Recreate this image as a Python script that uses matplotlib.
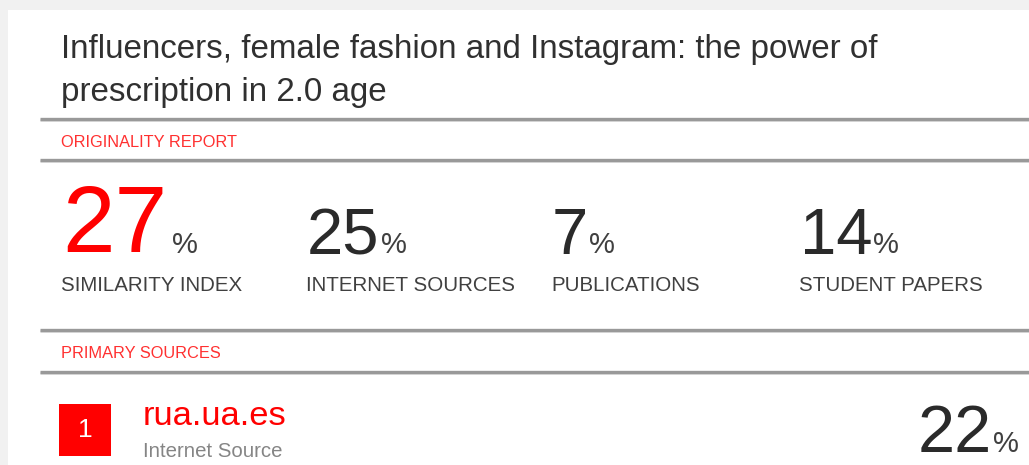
import matplotlib
matplotlib.use("Agg")
import matplotlib.pyplot as plt
from matplotlib.patches import Rectangle

# ---- data ----
title_lines = ["Influencers, female fashion and Instagram: the power of",
               "prescription in 2.0 age"]
section_report = "ORIGINALITY REPORT"
section_sources = "PRIMARY SOURCES"
categories = ["SIMILARITY INDEX", "INTERNET SOURCES", "PUBLICATIONS", "STUDENT PAPERS"]
values = [27, 25, 7, 14]
source_ranks = [1]
source_names = ["rua.ua.es"]
source_types = ["Internet Source"]
source_values = [22]

# ---- style ----
FONT = "Liberation Sans"
RED = "#ff0000"
DARK = "#2a2a2a"
GREY = "#404040"
LIGHT = "#858585"
RULE = "#999999"
W, H = 1029, 465

fig = plt.figure(figsize=(W / 100, H / 100), dpi=100, facecolor="#f1f1f1")
ax = fig.add_axes([0, 0, 1, 1])
ax.set_xlim(0, W)
ax.set_ylim(H, 0)
ax.axis("off")
ax.set_facecolor("none")

# white panel
ax.add_patch(Rectangle((8, 10), W - 8, H - 10, facecolor="white", edgecolor="none", zorder=0))

def txt(x, y, s, size, color, **kw):
    return ax.text(x, y, s, fontsize=size, color=color, family=FONT,
                   va="baseline", ha=kw.pop("ha", "left"), **kw)

# title
txt(61, 58, title_lines[0], 23.9, "#303030")
txt(61, 101, title_lines[1], 23.9, "#303030")

# rules
for y in [119, 160, 330, 372]:
    ax.plot([40, W], [y + 1.4, y + 1.4], color="#d5d5d5", lw=1.8, solid_capstyle="butt", zorder=1)
    ax.plot([40, W], [y, y], color=RULE, lw=2.4, solid_capstyle="butt", zorder=2)

txt(61, 147, section_report, 11.8, "#ff3030")
txt(61, 358, section_sources, 11.8, "#ff3030")

# summary numbers
num_x = [62, 307, 552, 800]
fig.canvas.draw()
renderer = fig.canvas.get_renderer()
inv = ax.transData.inverted()
for i, (cat, v) in enumerate(zip(categories, values)):
    if i == 0:
        t = txt(num_x[i], 252, str(v), 68, RED)
        gap = 5
    else:
        t = txt(num_x[i], 254, str(v), 47, DARK)
        gap = 1
    bb = t.get_window_extent(renderer)
    x1 = inv.transform((bb.x1, bb.y0))[0]
    txt(x1 + gap, 253, "%", 21, GREY)
    txt(num_x[i] - 1, 290.5, cat, 14.8, GREY)

# primary sources
for r, name, typ, v in zip(source_ranks, source_names, source_types, source_values):
    ax.add_patch(Rectangle((59, 404), 52, 52, facecolor=RED, edgecolor="none", zorder=3))
    ax.text(85, 430, str(r), fontsize=19, color="white", family=FONT,
            ha="center", va="center", zorder=4)
    txt(143, 425, name, 24.8, RED)
    txt(143, 457, typ, 14.7, LIGHT)
    pct = txt(1019, 452, "%", 21, GREY, ha="right")
    bb = pct.get_window_extent(renderer)
    x0 = inv.transform((bb.x0, bb.y0))[0]
    txt(x0 - 1, 452, str(v), 48, DARK, ha="right")

fig.savefig("out.png", dpi=100, facecolor=fig.get_facecolor())
